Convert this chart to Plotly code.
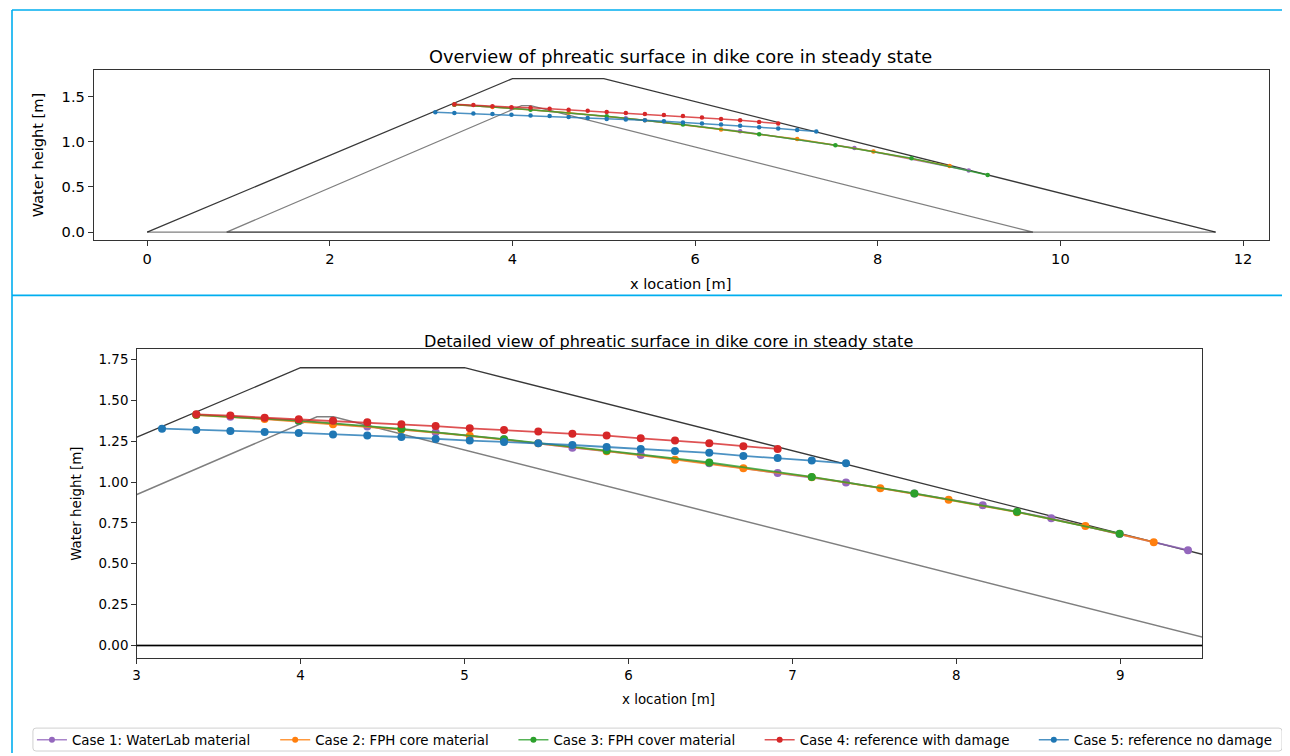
import plotly.graph_objects as go

# page is offset by the default 8px body margin, so the figure is sized to fit
OFF = 8
PAGE_W, PAGE_H = 1290, 756
W, H = PAGE_W - OFF, PAGE_H - OFF

# ---------------- data ----------------
# dike geometry
outer_x = [0.0, 4.0, 5.0, 11.7]
outer_y = [0.0, 1.7, 1.7, 0.0]
base_x = [0.0, 11.7]
base_y = [0.0, 0.0]
core_x = [0.87, 4.1, 4.2, 9.7, 0.87]
core_y = [0.0, 1.4, 1.4, 0.0, 0.0]

# detailed view series
case1_x = [3.572, 3.989, 4.407, 4.824, 5.241, 5.658, 6.075, 6.493, 6.910, 7.327, 7.744, 8.161, 8.579, 8.996, 9.413]
case1_y = [1.400, 1.374, 1.340, 1.305, 1.262, 1.211, 1.166, 1.115, 1.055, 0.998, 0.930, 0.859, 0.778, 0.682, 0.583]

case2_x = [3.364, 3.781, 4.198, 4.615, 5.032, 5.450, 5.867, 6.284, 6.701, 7.118, 7.536, 7.953, 8.370, 8.787, 9.204]
case2_y = [1.410, 1.386, 1.354, 1.322, 1.283, 1.238, 1.189, 1.137, 1.085, 1.030, 0.963, 0.892, 0.816, 0.731, 0.632]

case3_x = [3.364, 3.989, 4.615, 5.241, 5.867, 6.493, 7.118, 7.744, 8.370, 8.996]
case3_y = [1.412, 1.376, 1.326, 1.263, 1.193, 1.120, 1.032, 0.931, 0.818, 0.684]

case4_x = [3.364, 3.572, 3.781, 3.989, 4.198, 4.407, 4.615, 4.824, 5.032, 5.241, 5.450, 5.658, 5.867, 6.075, 6.284, 6.493, 6.701, 6.910]
case4_y = [1.415, 1.407, 1.394, 1.384, 1.376, 1.366, 1.354, 1.343, 1.329, 1.319, 1.309, 1.296, 1.285, 1.268, 1.254, 1.238, 1.220, 1.203]

case5_x = [3.155, 3.364, 3.572, 3.781, 3.989, 4.198, 4.407, 4.615, 4.824, 5.032, 5.241, 5.450, 5.658, 5.867, 6.075, 6.284, 6.493, 6.701, 6.910, 7.118, 7.327]
case5_y = [1.327, 1.319, 1.313, 1.307, 1.301, 1.291, 1.285, 1.276, 1.264, 1.254, 1.246, 1.238, 1.227, 1.215, 1.203, 1.191, 1.179, 1.160, 1.148, 1.132, 1.115]

# overview series (coarser sampling)
ov_case1_x = [3.364, 3.989, 5.241, 6.493, 7.744, 8.996]
ov_case1_y = [1.410, 1.374, 1.262, 1.118, 0.931, 0.683]
ov_case2_x = [3.364, 3.781, 4.615, 5.450, 6.284, 7.118, 7.953, 8.787]
ov_case2_y = [1.410, 1.386, 1.322, 1.238, 1.137, 1.030, 0.892, 0.731]
ov_case3_x = [3.364, 4.198, 5.032, 5.867, 6.701, 7.536, 8.370, 9.204]
ov_case3_y = [1.412, 1.356, 1.284, 1.192, 1.085, 0.963, 0.817, 0.632]

case_names = ["Case 1: WaterLab material", "Case 2: FPH core material",
              "Case 3: FPH cover material", "Case 4: reference with damage",
              "Case 5: reference no damage"]
case_colors = ["#9467bd", "#ff7f0e", "#2ca02c", "#d62728", "#1f77b4"]
line_colors = ["rgba(148,103,189,0.8)", "rgba(255,127,14,0.8)", "rgba(44,160,44,0.8)",
               "rgba(214,39,40,0.8)", "rgba(31,119,180,0.8)"]

ov_ticks_x = [0, 2, 4, 6, 8, 10, 12]
ov_ticks_y = [0.0, 0.5, 1.0, 1.5]
dt_ticks_x = [3, 4, 5, 6, 7, 8, 9]
dt_ticks_y = [0.0, 0.25, 0.5, 0.75, 1.0, 1.25, 1.5, 1.75]

# ---------------- figure ----------------
FONT = "DejaVu Sans"
OUTER_C = "rgba(0,0,0,0.78)"
CORE_C = "rgba(0,0,0,0.5)"


def px_x(p):
    return (p - OFF) / W


def px_y(p):
    return 1 - (p - OFF) / H


fig = go.Figure()

# overview geometry
fig.add_trace(go.Scatter(x=outer_x, y=outer_y, mode="lines", line=dict(color=OUTER_C, width=1.3),
                         xaxis="x", yaxis="y", showlegend=False, hoverinfo="skip"))
fig.add_trace(go.Scatter(x=base_x, y=base_y, mode="lines", line=dict(color=CORE_C, width=1.3),
                         xaxis="x", yaxis="y", showlegend=False, hoverinfo="skip"))
fig.add_trace(go.Scatter(x=core_x, y=core_y, mode="lines", line=dict(color=CORE_C, width=1.3),
                         xaxis="x", yaxis="y", showlegend=False, hoverinfo="skip"))

ov_series = [(ov_case1_x, ov_case1_y), (ov_case2_x, ov_case2_y), (ov_case3_x, ov_case3_y),
             (case4_x, case4_y), (case5_x, case5_y)]
for i, (xs, ys) in enumerate(ov_series):
    fig.add_trace(go.Scatter(x=xs, y=ys, mode="lines+markers", name=case_names[i],
                             line=dict(color=line_colors[i], width=1.5),
                             marker=dict(color=case_colors[i], size=4.5),
                             xaxis="x", yaxis="y", showlegend=False))

# detail geometry
fig.add_trace(go.Scatter(x=outer_x, y=outer_y, mode="lines", line=dict(color=OUTER_C, width=1.3),
                         xaxis="x2", yaxis="y2", showlegend=False, hoverinfo="skip"))
fig.add_trace(go.Scatter(x=core_x, y=core_y, mode="lines", line=dict(color=CORE_C, width=1.5),
                         xaxis="x2", yaxis="y2", showlegend=False, hoverinfo="skip"))

dt_series = [(case1_x, case1_y), (case2_x, case2_y), (case3_x, case3_y),
             (case4_x, case4_y), (case5_x, case5_y)]
legend_ids = ["legend", "legend2", "legend3", "legend4", "legend5"]
for i, (xs, ys) in enumerate(dt_series):
    fig.add_trace(go.Scatter(x=xs, y=ys, mode="lines+markers", name=case_names[i],
                             line=dict(color=line_colors[i], width=1.8),
                             marker=dict(color=case_colors[i], size=8),
                             xaxis="x2", yaxis="y2", showlegend=False))

# legend entries (smaller symbols, as in the original legend)
for i in range(5):
    fig.add_trace(go.Scatter(x=[None], y=[None], mode="lines+markers", name=case_names[i],
                             line=dict(color=line_colors[i], width=1.5),
                             marker=dict(color=case_colors[i], size=6),
                             xaxis="x2", yaxis="y2", showlegend=True, legend=legend_ids[i]))

axis_common = dict(showgrid=False, zeroline=False, showline=True, mirror=True,
                   linecolor="#333333", linewidth=1, ticks="outside", tickcolor="#333333",
                   tickwidth=1, color="#000000")

fig.update_layout(
    width=W, height=H,
    margin=dict(l=0, r=0, t=0, b=0),
    paper_bgcolor="white", plot_bgcolor="white",
    font=dict(family=FONT, color="#000000"),
    xaxis=dict(domain=[px_x(90), px_x(1269)], range=[-0.585, 12.285], anchor="y",
               tickvals=ov_ticks_x, ticklen=5, tickfont=dict(size=14.6), **axis_common),
    yaxis=dict(domain=[px_y(241), px_y(70)], range=[-0.088, 1.798], anchor="x",
               tickvals=ov_ticks_y, tickformat=".1f", ticklen=5, tickfont=dict(size=14.6),
               **axis_common),
    xaxis2=dict(domain=[px_x(133), px_x(1202)], range=[3, 9.5], anchor="y2",
                tickvals=dt_ticks_x, ticklen=4.5, tickfont=dict(size=13.4), **axis_common),
    yaxis2=dict(domain=[px_y(661), px_y(350)], range=[-0.079, 1.817], anchor="x2",
                tickvals=dt_ticks_y, tickformat=".2f", ticklen=4.5, tickfont=dict(size=13.4),
                **axis_common),
)

# legends (one per entry, placed in a common frame)
leg_starts = [28, 272, 511, 758, 1033]
for lid, xs in zip(legend_ids, leg_starts):
    fig.update_layout({lid: dict(x=px_x(xs), y=px_y(743), xanchor="left", yanchor="middle",
                                 orientation="h", bgcolor="rgba(0,0,0,0)", borderwidth=0,
                                 font=dict(family=FONT, size=13.4, color="#000000"))})


def rounded_rect(x0, y0, x1, y1, r):
    # pixel coordinates (page) -> paper path with rounded corners
    X = lambda p: f"{px_x(p):.6f}"
    Y = lambda p: f"{px_y(p):.6f}"
    return (f"M {X(x0 + r)},{Y(y0)} L {X(x1 - r)},{Y(y0)} Q {X(x1)},{Y(y0)} {X(x1)},{Y(y0 + r)} "
            f"L {X(x1)},{Y(y1 - r)} Q {X(x1)},{Y(y1)} {X(x1 - r)},{Y(y1)} "
            f"L {X(x0 + r)},{Y(y1)} Q {X(x0)},{Y(y1)} {X(x0)},{Y(y1 - r)} "
            f"L {X(x0)},{Y(y0 + r)} Q {X(x0)},{Y(y0)} {X(x0 + r)},{Y(y0)} Z")


shapes = [
    # legend frame
    dict(type="path", xref="paper", yref="paper", path=rounded_rect(29, 731, 1282, 754, 3),
         line=dict(color="#d0d0d0", width=1), fillcolor="rgba(255,255,255,0.8)", layer="below"),
    # axhline at y=0 in detail
    dict(type="line", xref="x2 domain", yref="y2", x0=0, x1=1, y0=0, y1=0,
         line=dict(color="#000000", width=1.3)),
    # notebook cell borders
    dict(type="line", xref="paper", yref="paper", x0=px_x(8), x1=px_x(8),
         y0=px_y(10), y1=px_y(756), line=dict(color="#00AEEF", width=1.6)),
    dict(type="line", xref="paper", yref="paper", x0=px_x(8), x1=1,
         y0=px_y(10), y1=px_y(10), line=dict(color="#00AEEF", width=1.6)),
    dict(type="line", xref="paper", yref="paper", x0=px_x(8), x1=1,
         y0=px_y(296.5), y1=px_y(296.5), line=dict(color="#00AEEF", width=1.6)),
]
fig.update_layout(shapes=shapes)


def label(text, x, y, size, angle=0):
    return dict(text=text, xref="paper", yref="paper", x=px_x(x), y=px_y(y),
                xanchor="center", yanchor="middle", showarrow=False, textangle=angle,
                font=dict(family=FONT, size=size, color="#000000"))


fig.update_layout(annotations=[
    label("Overview of phreatic surface in dike core in steady state", 679, 57, 17.8),
    label("x location [m]", 679, 285, 14.6),
    label("Water height [m]", 33, 155, 14.6, -90),
    label("Detailed view of phreatic surface in dike core in steady state", 667, 343, 16.1),
    label("x location [m]", 667, 702, 13.4),
    label("Water height [m]", 72, 506, 13.4, -90),
])

fig.write_html("out.html")
